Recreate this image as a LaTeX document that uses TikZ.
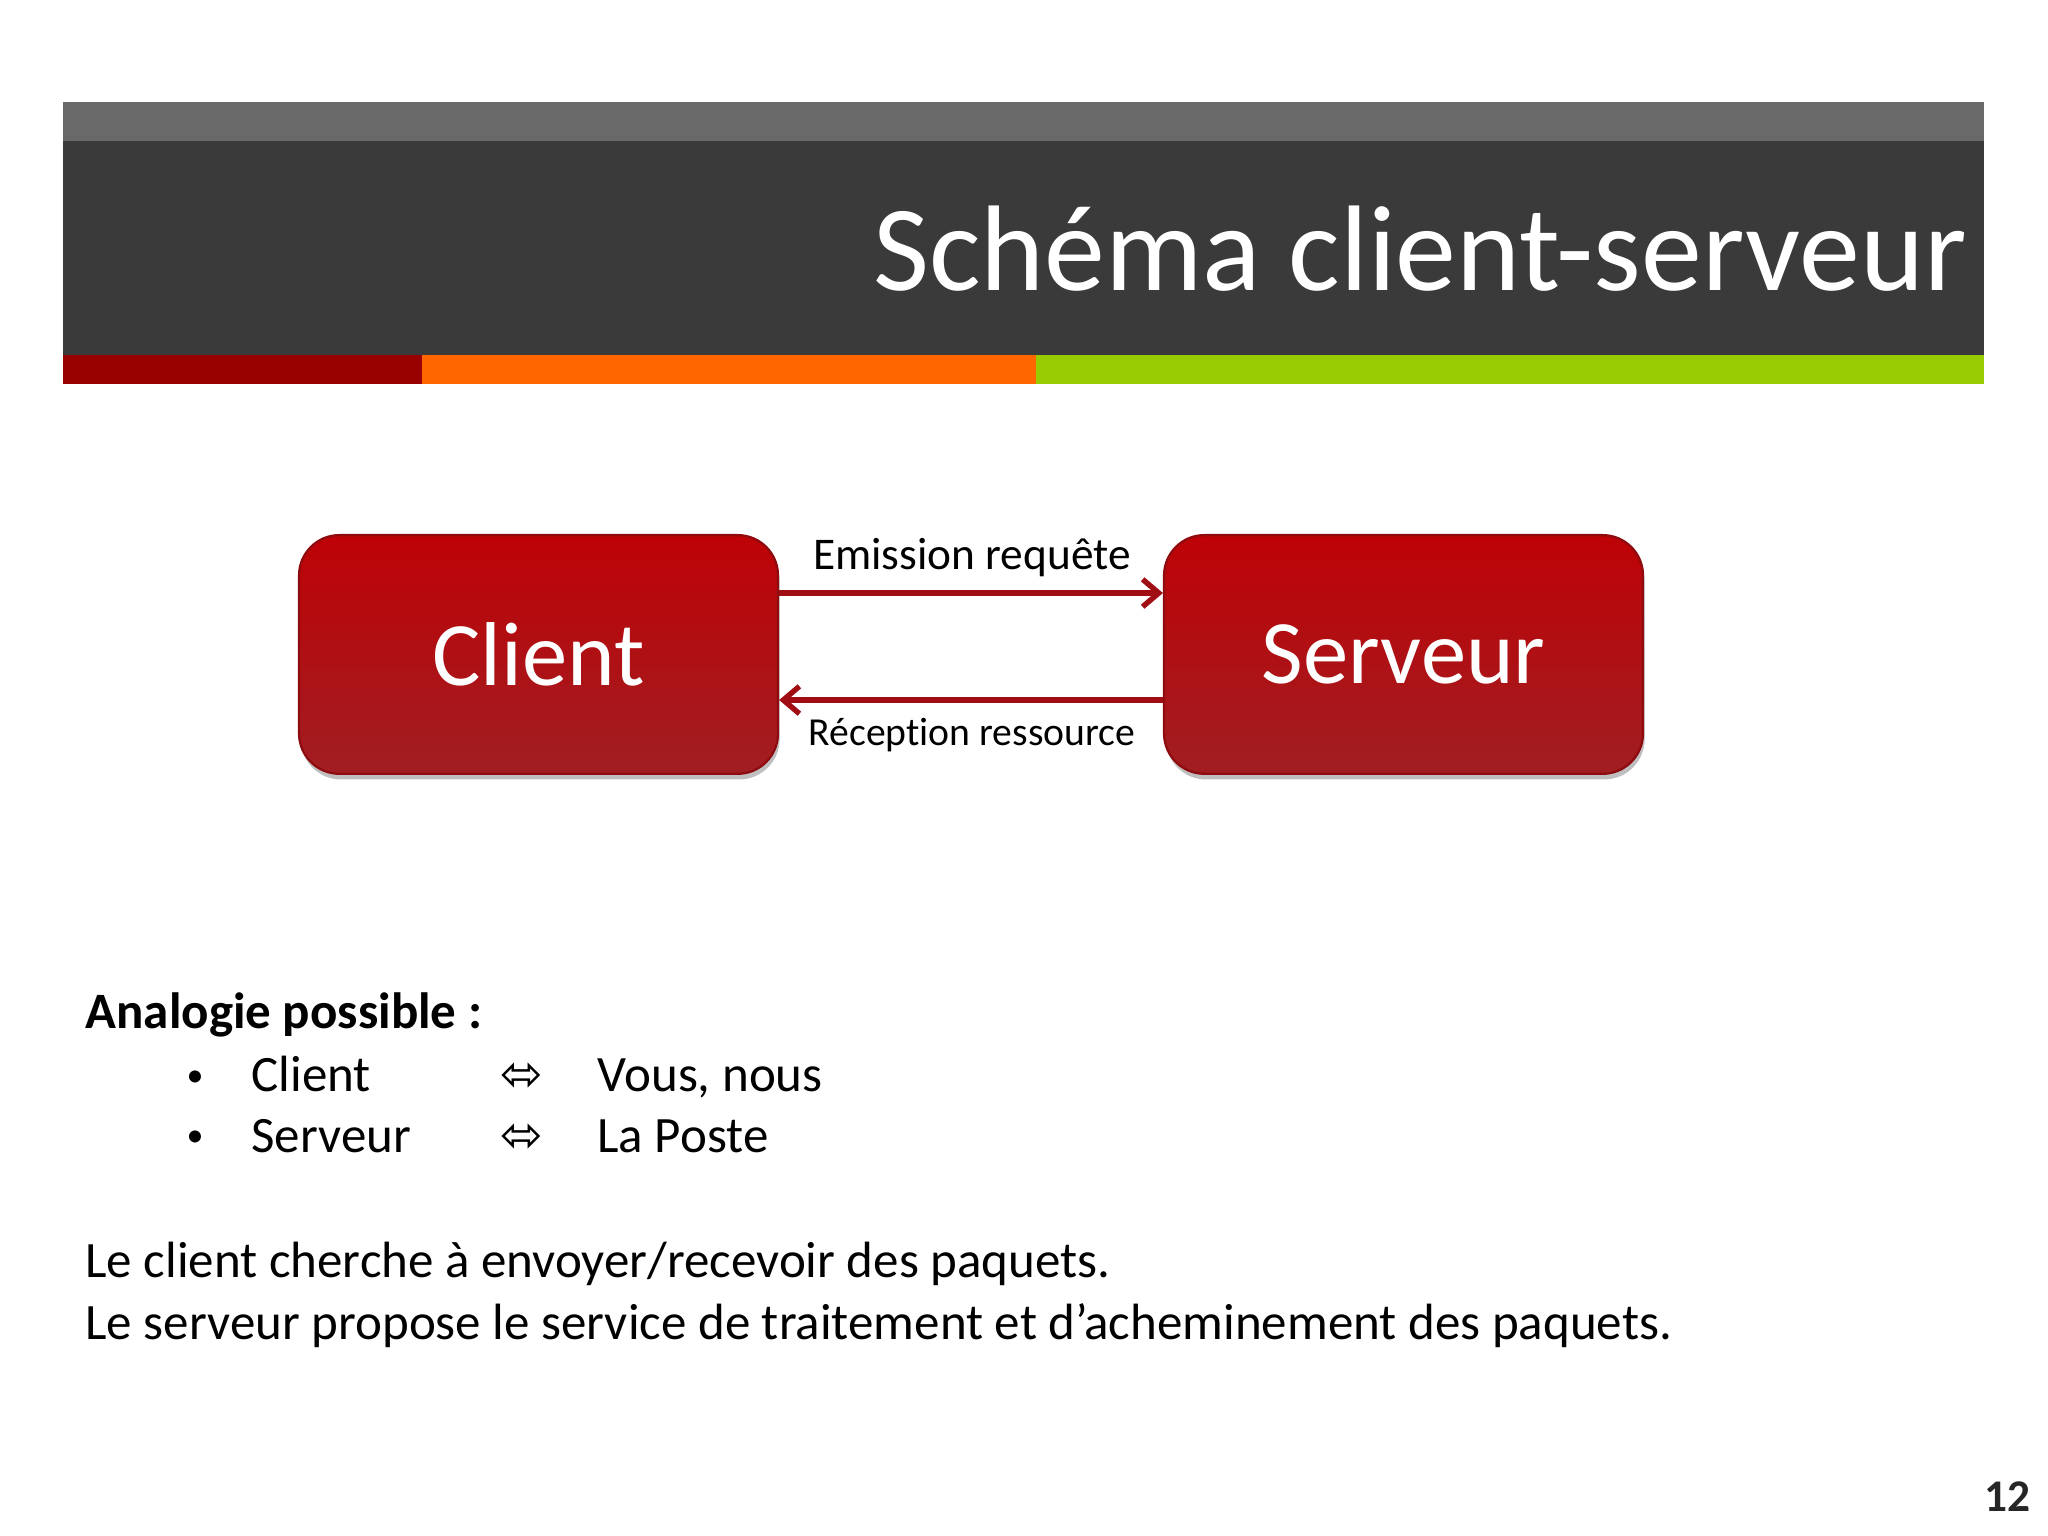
\documentclass[tikz,border=0pt]{standalone}
\usepackage{fontspec}
\setmainfont[Ligatures=NoCommon]{Carlito}
\newfontfamily\symfont{DejaVu Sans}
\usetikzlibrary{shadows,arrows.meta}
\definecolor{titledark}{HTML}{3A3A3A}
\definecolor{titlegray}{HTML}{696969}
\definecolor{barred}{HTML}{990000}
\definecolor{barorange}{HTML}{FF6600}
\definecolor{bargreen}{HTML}{99CC00}
\definecolor{boxtop}{HTML}{BE0206}
\definecolor{boxbottom}{HTML}{A01E22}
\definecolor{boxedge}{HTML}{8E0C10}
\definecolor{linkred}{HTML}{A00E14}
\definecolor{pagegray}{HTML}{262626}
\tikzset{
    box/.style={draw=boxedge,line width=0.8pt,rounded corners=0.5cm,
        top color=boxtop,bottom color=boxbottom,
        minimum width=5.94cm,minimum height=2.96cm,inner sep=0pt,
        text=white,font=\fontsize{32}{38}\selectfont,
        drop shadow={opacity=0.5,shadow xshift=0.02cm,shadow yshift=-0.07cm}},
    link/.style={draw=linkred,line width=1.9pt,>={Straight Barb[length=2mm,width=3.4mm]}},
    msg/.style={anchor=center,font=\fontsize{16}{19}\selectfont},
    body/.style={anchor=base west,inner sep=0pt,font=\fontsize{18}{22}\selectfont},
    dot/.style={anchor=base,inner sep=0pt,font=\fontsize{12}{14}\selectfont}
}
\begin{document}
\begin{tikzpicture}
    \useasboundingbox[fill=white] (0,0) rectangle (25.4,19.05);
    %% title bar
    \fill[titlegray] (0.78,17.30) rectangle (24.61,17.785);
    \fill[titledark] (0.78,14.647) rectangle (24.61,17.30);
    \fill[barred] (0.78,14.287) rectangle (5.234,14.647);
    \fill[barorange] (5.234,14.287) rectangle (12.849,14.647);
    \fill[bargreen] (12.849,14.287) rectangle (24.61,14.647);
    \node[anchor=base east,inner sep=0pt,text=white,font=\fontsize{43}{52}\selectfont] (T) at (24.40,15.453) {Schéma client-serveur};
    %% client and serveur
    \node[box] (C) at (6.679,10.933) {Client};
    \node[box] (S) at (17.407,10.933) {Serveur};
    \draw[link,->] ([yshift=0.762cm]C.east) -- ([yshift=0.762cm]S.west);
    \draw[link,->] ([yshift=-0.565cm]S.west) -- ([yshift=-0.565cm]C.east);
    \node[msg] (E) at (12.055,12.13) {Emission requête};
    \node[msg,font=\fontsize{14}{17}\selectfont] (R) at (12.055,9.935) {Réception ressource};
    %% analogy
    \node[body,font=\bfseries\fontsize{18}{22}\selectfont] (A) at (1.054,6.288) {Analogie possible :};
    \node[dot] (b1) at (2.42,5.58) {•};
    \node[body] (c1) at (3.113,5.507) {Client};
    \node[body] (e1) at (6.201,5.507) {\symfont ⬄};
    \node[body] (v1) at (7.404,5.507) {Vous, nous};
    \node[dot] (b2) at (2.42,4.835) {•};
    \node[body] (c2) at (3.113,4.762) {Serveur};
    \node[body] (e2) at (6.201,4.762) {\symfont ⬄};
    \node[body] (v2) at (7.404,4.762) {La Poste};
    \node[body] (L1) at (1.054,3.21) {Le client cherche à envoyer/recevoir des paquets.};
    \node[body] (L2) at (1.054,2.44) {Le serveur propose le service de traitement et d’acheminement des paquets.};
    \node[anchor=base east,inner sep=0pt,text=pagegray,font=\bfseries\fontsize{16}{19}\selectfont] (P) at (25.19,0.31) {12};
\end{tikzpicture}
\end{document}
